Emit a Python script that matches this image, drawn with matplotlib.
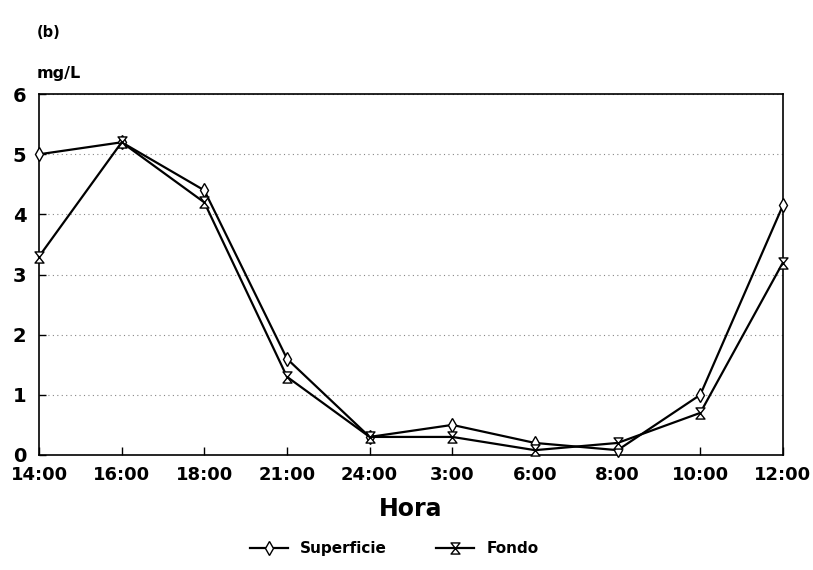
import matplotlib
matplotlib.use("Agg")
import matplotlib.pyplot as plt
from matplotlib.path import Path
import numpy as np

hours = ["14:00", "16:00", "18:00", "21:00", "24:00", "3:00", "6:00", "8:00", "10:00", "12:00"]
superficie = [5.0, 5.2, 4.4, 1.6, 0.3, 0.5, 0.2, 0.08, 1.0, 4.15]
fondo = [3.3, 5.2, 4.2, 1.3, 0.3, 0.3, 0.08, 0.2, 0.7, 3.2]
yticks = [0, 1, 2, 3, 4, 5, 6]

plt.rcParams['font.family'] = ['DejaVu Sans']
plt.rcParams['font.weight'] = 'bold'

hourglass = Path([(-0.8, 1), (0.8, 1), (-0.8, -1), (0.8, -1), (-0.8, 1)],
                 [Path.MOVETO, Path.LINETO, Path.LINETO, Path.LINETO, Path.CLOSEPOLY])

fig = plt.figure(figsize=(8.13, 5.70), dpi=100)
ax = fig.add_axes([0.048, 0.2018, 0.915, 0.633])
x = np.arange(len(hours))

ax.plot(x, superficie, color='black', lw=1.6, marker='d', markersize=7,
        markerfacecolor='white', markeredgewidth=1.0, label='Superficie', clip_on=False, zorder=3)
ax.plot(x, fondo, color='black', lw=1.6, marker=hourglass, markersize=8,
        markerfacecolor='white', markeredgewidth=1.0, label='Fondo', clip_on=False, zorder=3)

ax.set_xlim(0, len(hours) - 1)
ax.set_ylim(0, 6)
ax.set_xticks(x)
ax.set_xticklabels(hours, fontsize=13, fontweight='bold')
ax.set_yticks(yticks)
ax.set_yticklabels([str(v) for v in yticks], fontsize=14, fontweight='bold')
ax.tick_params(axis='x', direction='in', length=6, width=1, colors='black', pad=8)
ax.tick_params(axis='y', direction='in', length=5, width=1, colors='black', pad=9)
for s in ax.spines.values():
    s.set_linewidth(1.2)
ax.yaxis.grid(True, linestyle=(0, (1, 3)), color='#888888', lw=0.8)
ax.set_axisbelow(True)

ax.set_xlabel('Hora', fontsize=17, fontweight='bold', labelpad=9)
fig.text(0.045, 0.858, 'mg/L', fontsize=11.5, fontweight='bold', ha='left', va='bottom')
fig.text(0.045, 0.93, '(b)', fontsize=10.5, fontweight='bold', ha='left', va='bottom')

fig.legend(loc='lower center', bbox_to_anchor=(0.485, 0.0), ncol=2, frameon=False,
           handlelength=2.5, columnspacing=3.2, prop={'weight': 'bold', 'size': 11})

fig.savefig('out.png', dpi=100)
